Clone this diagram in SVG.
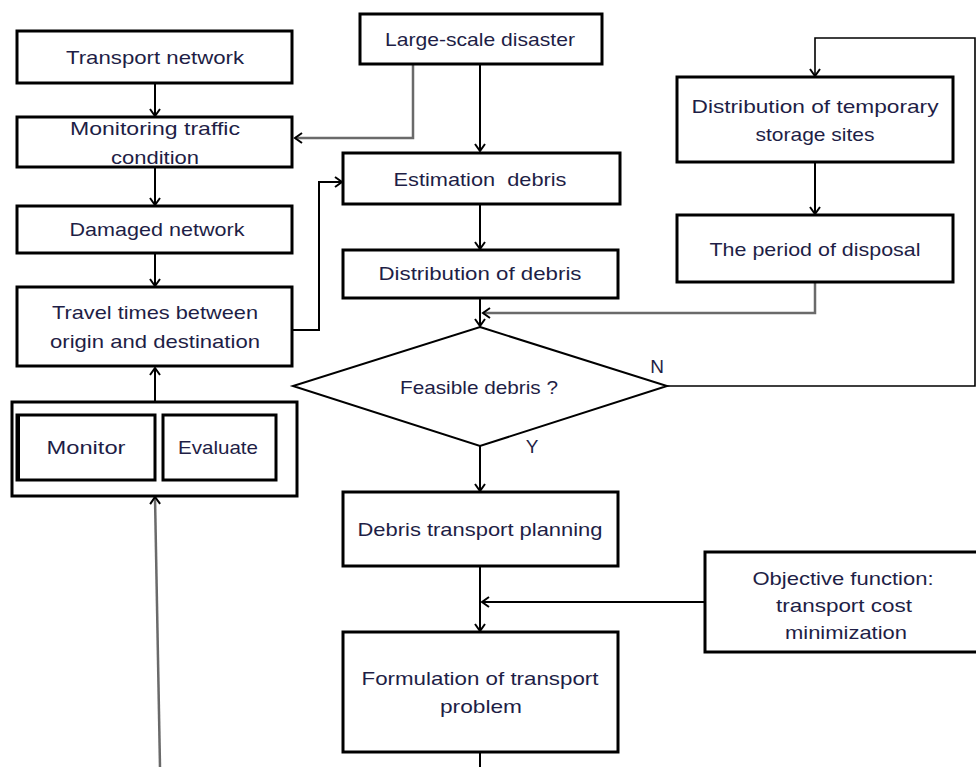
<svg xmlns="http://www.w3.org/2000/svg" width="976" height="767" viewBox="0 0 976 767">
<style>
.box{fill:#fff;stroke:#000;stroke-width:3}
.dia{fill:#fff;stroke:#000;stroke-width:2}
.t{font-family:"Liberation Sans",Arial,sans-serif;font-size:19px;fill:#1e1e46;text-anchor:middle}
.c{fill:none;stroke:#000;stroke-width:2}
.g{fill:none;stroke:#6a6a6a;stroke-width:2.5}
</style>
<defs>
<marker id="ah" markerWidth="12" markerHeight="12" refX="9" refY="6" orient="auto" markerUnits="userSpaceOnUse">
<path d="M2,1 L9,6 L2,11" fill="none" stroke="#000" stroke-width="2"/>
</marker>
</defs>
<rect width="976" height="767" fill="#fff"/>
<g id="connectors">
<line class="c" x1="155" y1="83" x2="155" y2="116" marker-end="url(#ah)"/>
<line class="c" x1="155" y1="167" x2="155" y2="205" marker-end="url(#ah)"/>
<line class="c" x1="155" y1="253" x2="155" y2="286" marker-end="url(#ah)"/>
<line class="c" x1="155" y1="402" x2="155" y2="368" marker-end="url(#ah)"/>
<line class="g" x1="160" y1="767" x2="155" y2="497" marker-end="url(#ah)"/>
<polyline class="g" points="413,64 413,138 295,138" marker-end="url(#ah)"/>
<line class="c" x1="480" y1="64" x2="480" y2="151" marker-end="url(#ah)"/>
<polyline class="c" points="292,330 319,330 319,182 342,182" marker-end="url(#ah)"/>
<line class="c" x1="480" y1="204" x2="480" y2="249" marker-end="url(#ah)"/>
<line class="c" x1="480" y1="298" x2="480" y2="326" marker-end="url(#ah)"/>
<polyline class="g" points="815,282 815,313 483,313" marker-end="url(#ah)"/>
<polyline class="c" points="667,386 975,386 975,38 815,38 815,76" style="stroke-width:1.6" marker-end="url(#ah)"/>
<line class="c" x1="480" y1="446" x2="480" y2="491" marker-end="url(#ah)"/>
<line class="c" x1="480" y1="566" x2="480" y2="631" marker-end="url(#ah)"/>
<line class="c" x1="705" y1="602" x2="482" y2="602" marker-end="url(#ah)"/>
<line class="c" x1="480" y1="752" x2="480" y2="767"/>
<line class="c" x1="815" y1="162" x2="815" y2="214" marker-end="url(#ah)"/>
</g>
<g id="transport-network">
<rect class="box" x="17" y="31" width="275" height="52"/>
<text class="t" x="155" y="64" textLength="178" lengthAdjust="spacingAndGlyphs">Transport network</text>
</g>
<g id="monitoring-traffic">
<rect class="box" x="17" y="117" width="275" height="50"/>
<text class="t" x="155" y="135" textLength="170" lengthAdjust="spacingAndGlyphs">Monitoring traffic</text>
<text class="t" x="155" y="164" textLength="88" lengthAdjust="spacingAndGlyphs">condition</text>
</g>
<g id="damaged-network">
<rect class="box" x="17" y="206" width="275" height="47"/>
<text class="t" x="157" y="236" textLength="175" lengthAdjust="spacingAndGlyphs">Damaged network</text>
</g>
<g id="travel-times">
<rect class="box" x="17" y="287" width="275" height="79"/>
<text class="t" x="155" y="319" textLength="206" lengthAdjust="spacingAndGlyphs">Travel times between</text>
<text class="t" x="155" y="348" textLength="210" lengthAdjust="spacingAndGlyphs">origin and destination</text>
</g>
<g id="monitor-evaluate">
<rect class="box" x="12" y="402" width="285" height="94"/>
<rect class="box" x="17" y="415" width="138" height="65"/>
<line x1="18" y1="415" x2="18" y2="480" stroke="#000" stroke-width="4"/>
<rect class="box" x="163" y="415" width="113" height="65"/>
<text class="t" x="86" y="454" textLength="79" lengthAdjust="spacingAndGlyphs">Monitor</text>
<text class="t" x="218" y="454" textLength="80" lengthAdjust="spacingAndGlyphs">Evaluate</text>
</g>
<g id="large-scale-disaster">
<rect class="box" x="360" y="14" width="242" height="50"/>
<text class="t" x="480" y="46" textLength="190" lengthAdjust="spacingAndGlyphs">Large-scale disaster</text>
</g>
<g id="estimation-debris">
<rect class="box" x="343" y="153" width="277" height="51"/>
<text class="t" x="480" y="186" textLength="173" lengthAdjust="spacingAndGlyphs" xml:space="preserve">Estimation  debris</text>
</g>
<g id="distribution-debris">
<rect class="box" x="343" y="250" width="275" height="48"/>
<text class="t" x="480" y="280" textLength="203" lengthAdjust="spacingAndGlyphs">Distribution of debris</text>
</g>
<g id="feasible-debris">
<polygon class="dia" points="480,327 667,386 480,446 293,386"/>
<text class="t" x="479" y="394" textLength="158" lengthAdjust="spacingAndGlyphs">Feasible debris ?</text>
<text class="t" x="657" y="373">N</text>
<text class="t" x="532" y="453">Y</text>
</g>
<g id="debris-transport-planning">
<rect class="box" x="343" y="492" width="275" height="74"/>
<text class="t" x="480" y="536" textLength="245" lengthAdjust="spacingAndGlyphs">Debris transport planning</text>
</g>
<g id="formulation">
<rect class="box" x="343" y="632" width="275" height="120"/>
<text class="t" x="480" y="685" textLength="237" lengthAdjust="spacingAndGlyphs">Formulation of transport</text>
<text class="t" x="481" y="713" textLength="82" lengthAdjust="spacingAndGlyphs">problem</text>
</g>
<g id="objective-function">
<rect class="box" x="705" y="552" width="280" height="100"/>
<text class="t" x="843" y="585" textLength="181" lengthAdjust="spacingAndGlyphs">Objective function:</text>
<text class="t" x="844" y="612" textLength="136" lengthAdjust="spacingAndGlyphs">transport cost</text>
<text class="t" x="846" y="639" textLength="122" lengthAdjust="spacingAndGlyphs">minimization</text>
</g>
<g id="temporary-storage">
<rect class="box" x="677" y="77" width="276" height="85"/>
<text class="t" x="815" y="113" textLength="247" lengthAdjust="spacingAndGlyphs">Distribution of temporary</text>
<text class="t" x="815" y="141" textLength="119" lengthAdjust="spacingAndGlyphs">storage sites</text>
</g>
<g id="period-disposal">
<rect class="box" x="677" y="215" width="276" height="67"/>
<text class="t" x="815" y="256" textLength="211" lengthAdjust="spacingAndGlyphs">The period of disposal</text>
</g>
</svg>
